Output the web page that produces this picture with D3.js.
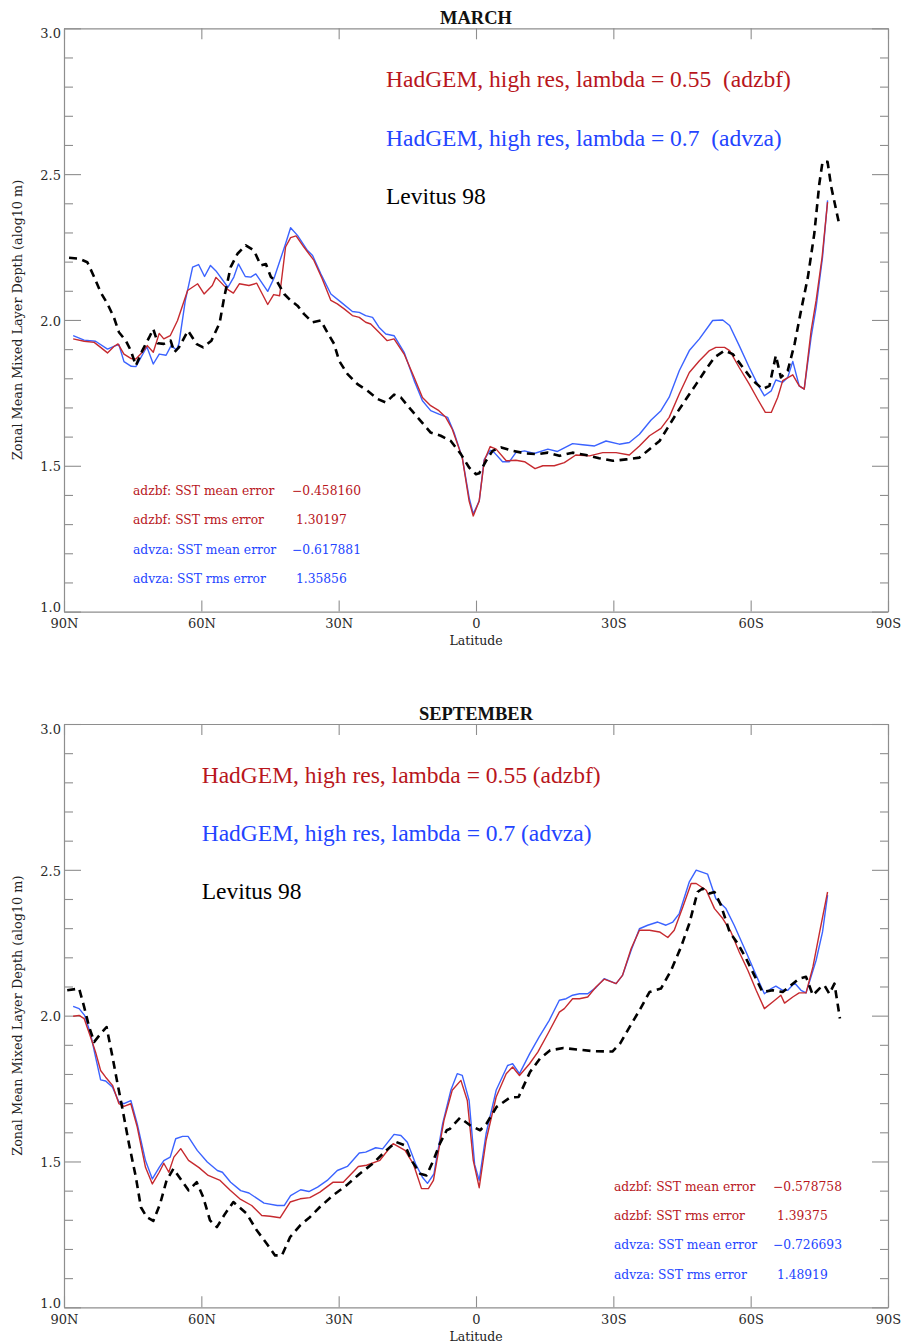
<!DOCTYPE html>
<html>
<head>
<meta charset="utf-8">
<script src="https://cdn.jsdelivr.net/npm/d3@7/dist/d3.min.js"></script>
<style>
  body { margin: 0; background: #fff; }
  svg { display: block; }
</style>
</head>
<body>
<svg id="chart" width="902" height="1344"></svg>
<script>
// ---- Axis ticks and labels ----
const latTicks = [90, 60, 30, 0, -30, -60, -90];
const latTickLabels = ["90N", "60N", "30N", "0", "30S", "60S", "90S"];
const depthMajorTicks = [1.0, 1.5, 2.0, 2.5, 3.0];
const depthMinorTicks = [1.1, 1.2, 1.3, 1.4, 1.6, 1.7, 1.8, 1.9, 2.1, 2.2, 2.3, 2.4, 2.6, 2.7, 2.8, 2.9];

// ---- Legend and statistics text ----
const legendMarch = ["HadGEM, high res, lambda = 0.55  (adzbf)", "HadGEM, high res, lambda = 0.7  (advza)", "Levitus 98"];
const legendSeptember = ["HadGEM, high res, lambda = 0.55 (adzbf)", "HadGEM, high res, lambda = 0.7 (advza)", "Levitus 98"];
const statLabels = ["adzbf: SST mean error", "adzbf: SST rms error", "advza: SST mean error", "advza: SST rms error"];
const statsMarch = ["\u22120.458160", " 1.30197", "\u22120.617881", " 1.35856"];
const statsSeptember = ["\u22120.578758", " 1.39375", "\u22120.726693", " 1.48919"];

// ---- Zonal mean mixed layer depth, [latitude, alog10 m]; south is negative ----
const marchAdzbf = [[88,1.935],[85.6,1.927],[83.4,1.923],[82,1.906],[80.5,1.887],[79.1,1.909],[78.2,1.918],[76.9,1.883],[75.4,1.868],[74.3,1.866],[72.9,1.889],[71.8,1.912],[70.5,1.889],[69.2,1.954],[68.2,1.935],[66.8,1.946],[65.2,1.998],[63,2.101],[60.8,2.124],[59.4,2.089],[57.6,2.118],[56.8,2.146],[54.2,2.104],[53,2.092],[51.7,2.124],[49.6,2.118],[47.9,2.126],[45.5,2.053],[44.2,2.087],[42.9,2.083],[41.6,2.25],[40.5,2.282],[39.3,2.288],[37.6,2.25],[35.4,2.204],[33.6,2.141],[31.7,2.067],[30.3,2.055],[28.8,2.038],[27,2.015],[25.5,2.009],[24.1,1.992],[23,1.986],[21.2,1.958],[19.4,1.929],[17.9,1.935],[15.7,1.883],[13.5,1.803],[11.7,1.734],[9.9,1.706],[8.1,1.689],[6.6,1.666],[5.2,1.626],[3,1.528],[1.5,1.379],[0.6,1.328],[-0.7,1.379],[-1.8,1.517],[-3.1,1.566],[-4.4,1.557],[-6.6,1.517],[-8.7,1.519],[-10.6,1.514],[-12.9,1.49],[-14.6,1.5],[-17.1,1.5],[-19.3,1.511],[-21.8,1.537],[-24.8,1.534],[-27.7,1.545],[-30.6,1.545],[-33.5,1.537],[-35.7,1.568],[-37.9,1.603],[-40.4,1.628],[-42.2,1.666],[-44.4,1.746],[-46.6,1.82],[-48.8,1.86],[-51,1.895],[-52.4,1.906],[-54.3,1.906],[-55.4,1.895],[-57.5,1.837],[-59.7,1.78],[-61.5,1.729],[-63.2,1.683],[-64.5,1.683],[-65.9,1.734],[-67,1.792],[-69.2,1.812],[-70.6,1.774],[-71.7,1.763],[-73.2,1.963],[-74.3,2.067],[-75.6,2.215],[-76.8,2.404]];

const marchAdvza = [[88,1.946],[85.6,1.931],[83.1,1.927],[80.5,1.9],[78.7,1.912],[78,1.915],[76.9,1.857],[75.3,1.841],[74.3,1.84],[71.9,1.908],[70.5,1.849],[69.2,1.883],[67.7,1.879],[66.6,1.912],[65.4,1.897],[64.9,1.918],[63.5,2.066],[61.9,2.181],[60.6,2.19],[59.3,2.149],[58,2.187],[56.8,2.168],[54.2,2.112],[52.9,2.147],[51.9,2.192],[50.4,2.149],[49.2,2.147],[48.1,2.158],[45.5,2.098],[44.1,2.144],[41.6,2.261],[40.5,2.316],[39,2.29],[36.8,2.238],[35.7,2.221],[33.9,2.158],[31.7,2.089],[29.5,2.061],[27,2.029],[25.5,2.026],[24.1,2.015],[22.6,2.009],[21.2,1.975],[19.7,1.952],[17.9,1.946],[15.7,1.889],[13.5,1.792],[11.7,1.723],[9.9,1.689],[8.1,1.677],[6.2,1.666],[4.8,1.614],[3,1.528],[1.5,1.391],[0.6,1.335],[-0.7,1.379],[-1.8,1.522],[-3.1,1.553],[-4,1.545],[-5.8,1.514],[-7.3,1.514],[-8.7,1.545],[-10.6,1.551],[-12.7,1.542],[-15.7,1.557],[-17.8,1.549],[-21.1,1.576],[-23.3,1.572],[-25.9,1.568],[-28.4,1.585],[-31.3,1.574],[-33.5,1.58],[-35.7,1.608],[-38.2,1.656],[-40.4,1.689],[-42.2,1.735],[-44.4,1.826],[-46.6,1.895],[-48.8,1.935],[-51.7,1.998],[-53.9,2.0],[-55.4,1.981],[-57.5,1.912],[-59.7,1.837],[-61.5,1.78],[-63,1.74],[-64.5,1.757],[-65.5,1.794],[-67,1.786],[-68.1,1.803],[-69.2,1.858],[-70.6,1.774],[-71.7,1.763],[-73.2,1.94],[-74.3,2.044],[-75.7,2.215],[-76.8,2.41]];

const marchLevitus = [[88.9,2.213],[86.7,2.21],[84.9,2.198],[83.4,2.147],[82,2.095],[80.5,2.055],[79.1,2.009],[78,1.958],[76.5,1.929],[75.4,1.895],[74.3,1.843],[72.9,1.895],[71.4,1.94],[70.5,1.969],[69.5,1.92],[68.2,1.918],[66.7,1.929],[65.9,1.889],[64.9,1.906],[62.9,1.963],[61,1.917],[59.6,1.906],[57.8,1.929],[56,1.99],[55,2.078],[53.6,2.181],[52.1,2.227],[50.3,2.256],[48.5,2.238],[47,2.187],[45.9,2.192],[44.8,2.147],[43.4,2.13],[41.9,2.089],[40.5,2.067],[39,2.049],[37.6,2.021],[35.7,1.992],[33.9,1.998],[32.5,1.958],[31,1.918],[29.9,1.86],[28.1,1.815],[25.9,1.78],[23.7,1.757],[21.5,1.729],[19.7,1.717],[17.9,1.744],[16.4,1.734],[14.3,1.694],[12.1,1.654],[9.9,1.614],[7.7,1.603],[5.5,1.585],[3.3,1.54],[1.5,1.494],[0,1.471],[-0.7,1.474],[-2.2,1.517],[-3.6,1.551],[-5.5,1.563],[-8,1.551],[-10.9,1.542],[-13.5,1.54],[-15.7,1.545],[-18.2,1.534],[-21.1,1.545],[-24,1.537],[-26.9,1.526],[-29.9,1.517],[-32.8,1.522],[-35.7,1.528],[-37.9,1.557],[-40.1,1.585],[-41.9,1.631],[-43.7,1.677],[-45.9,1.729],[-48.1,1.78],[-50.3,1.832],[-52.1,1.872],[-54.3,1.895],[-56.1,1.883],[-58.3,1.837],[-60.5,1.792],[-62.6,1.763],[-64.1,1.774],[-65.5,1.878],[-66.6,1.803],[-68.1,1.826],[-69.6,1.918],[-71,2.032],[-72.5,2.147],[-73.9,2.296],[-75,2.467],[-75.7,2.542],[-76.8,2.542],[-77.6,2.456],[-79.4,2.324]];

const septAdzbf = [[88,1.998],[86.7,2.001],[85.6,1.99],[84.2,1.927],[83.1,1.875],[82,1.812],[80.9,1.789],[79.4,1.761],[78,1.698],[76.9,1.689],[75.4,1.698],[74,1.618],[72.2,1.48],[70.7,1.423],[69.2,1.463],[68.2,1.494],[67.1,1.463],[66,1.515],[64.5,1.544],[62.8,1.504],[60.5,1.479],[58.5,1.452],[55.9,1.435],[53.7,1.401],[51.6,1.372],[49,1.349],[46.8,1.315],[45,1.312],[42.8,1.307],[40.6,1.361],[38.4,1.372],[36.3,1.376],[34.1,1.395],[31.2,1.429],[29,1.429],[25.7,1.483],[23.9,1.487],[21,1.504],[18.1,1.561],[15.5,1.538],[13.7,1.492],[11.9,1.407],[10.4,1.407],[9.3,1.435],[7,1.641],[5.2,1.744],[3.3,1.778],[1.9,1.709],[0.6,1.504],[-0.7,1.41],[-2.2,1.572],[-4.4,1.721],[-6.6,1.801],[-8,1.824],[-9.5,1.795],[-11.7,1.835],[-13.5,1.875],[-15.7,1.938],[-18.2,2.012],[-19.3,2.024],[-21.1,2.058],[-22.6,2.058],[-24.4,2.064],[-26.2,2.098],[-28,2.125],[-30.6,2.11],[-32,2.138],[-33.9,2.23],[-35.7,2.293],[-37.9,2.293],[-40.1,2.287],[-41.9,2.268],[-43.3,2.293],[-45.2,2.373],[-47,2.453],[-48.1,2.453],[-50.3,2.43],[-52.1,2.367],[-53.9,2.333],[-55.7,2.287],[-57.5,2.218],[-59.4,2.155],[-61.2,2.087],[-63,2.024],[-64.8,2.047],[-66.6,2.07],[-67.4,2.043],[-69.2,2.064],[-70.6,2.078],[-72.1,2.078],[-73.6,2.167],[-75,2.281],[-76.8,2.424]];

const septAdvza = [[88,2.032],[86.7,2.024],[85.5,2.001],[84.2,1.938],[83.1,1.858],[82,1.78],[80.9,1.776],[79.4,1.755],[78,1.704],[76.9,1.698],[75.4,1.709],[74,1.629],[72.2,1.503],[70.7,1.44],[69.2,1.48],[68.2,1.503],[66.8,1.515],[65.6,1.578],[64.1,1.586],[62.9,1.586],[60.9,1.538],[58.7,1.498],[56.5,1.469],[55.4,1.463],[53.6,1.429],[51.4,1.4],[49.6,1.392],[46.3,1.357],[43.4,1.349],[41.9,1.349],[40.5,1.383],[38.3,1.403],[36.5,1.397],[34.6,1.412],[32.5,1.435],[30.3,1.469],[28.1,1.483],[25.5,1.529],[24.1,1.532],[21.9,1.547],[20.4,1.543],[17.9,1.593],[16.4,1.589],[15,1.566],[13.2,1.492],[11.7,1.446],[10.6,1.425],[9.2,1.457],[7.3,1.629],[5.5,1.744],[4.1,1.801],[3,1.795],[1.5,1.709],[0.3,1.49],[-0.7,1.435],[-2.2,1.595],[-4.4,1.744],[-6.9,1.829],[-8,1.835],[-9.5,1.801],[-11.7,1.869],[-13.8,1.927],[-16,1.984],[-18.2,2.053],[-19.7,2.058],[-21.1,2.07],[-22.6,2.075],[-24.4,2.075],[-26.2,2.096],[-28,2.127],[-30.6,2.11],[-32,2.138],[-33.9,2.224],[-35.7,2.298],[-37.5,2.31],[-39.7,2.321],[-41.5,2.31],[-43,2.321],[-44.4,2.35],[-46.6,2.459],[-48.1,2.499],[-50.6,2.485],[-52.4,2.401],[-54.6,2.367],[-56.4,2.31],[-59,2.218],[-61.2,2.138],[-63,2.075],[-64.5,2.093],[-65.5,2.101],[-67,2.087],[-68.1,2.087],[-69.6,2.112],[-71,2.087],[-72.1,2.078],[-74.3,2.19],[-75.7,2.287],[-76.8,2.413]];

const septLevitus = [[89.3,2.087],[86.7,2.093],[85.6,2.03],[84.5,1.961],[83.4,1.91],[82,1.938],[80.7,1.961],[79.4,1.858],[78.3,1.766],[77.3,1.686],[75.8,1.56],[74.3,1.446],[73.2,1.343],[71.9,1.309],[70.5,1.296],[69,1.355],[67.6,1.435],[66.1,1.475],[64.3,1.435],[62.8,1.401],[61,1.429],[59.6,1.378],[58.1,1.298],[56.6,1.275],[54.8,1.321],[53,1.361],[50.1,1.321],[47.9,1.264],[45.7,1.218],[43.9,1.178],[42.4,1.178],[40.6,1.241],[38.4,1.281],[36.3,1.309],[34.1,1.344],[31.2,1.384],[28.3,1.418],[25.4,1.458],[22.6,1.492],[19.6,1.538],[17.5,1.567],[15.5,1.555],[14.1,1.504],[12.2,1.458],[10.8,1.452],[9.3,1.504],[7.9,1.561],[6.4,1.607],[5.7,1.612],[3.5,1.65],[1.3,1.624],[-0.9,1.607],[-2.3,1.63],[-4.5,1.687],[-7.4,1.719],[-9.3,1.721],[-11.8,1.807],[-14,1.853],[-16.2,1.881],[-19.1,1.889],[-22,1.884],[-25.7,1.878],[-29.8,1.877],[-31.5,1.905],[-33.1,1.949],[-35.7,2.018],[-37.9,2.081],[-40.4,2.093],[-42.6,2.155],[-44.8,2.236],[-46.6,2.316],[-48.4,2.424],[-49.5,2.436],[-51,2.419],[-52.1,2.424],[-53.5,2.379],[-55.4,2.287],[-57.2,2.247],[-59,2.196],[-60.8,2.138],[-62.6,2.081],[-64.8,2.087],[-67,2.081],[-68.8,2.104],[-70.6,2.127],[-72.1,2.133],[-73.6,2.07],[-75,2.093],[-76.1,2.104],[-77.2,2.075],[-78.3,2.11],[-79.5,1.99]];

// ---- Styling ----
const RED_LINE = "#c62a2f", BLUE_LINE = "#3b63ff";
const RED_TEXT = "#b8161c", BLUE_TEXT = "#2344ff";
const AXIS_GRAY = "#8e8e8e";
const LABEL_FONT = "'DejaVu Serif', serif";
const TEXT_FONT = "'Liberation Serif', 'Times New Roman', serif";

const svg = d3.select("#chart");
svg.append("rect").attr("width", 902).attr("height", 1344).attr("fill", "#fff");

const left = 64, right = 888;

function drawPanel(cfg) {
  const x = d3.scaleLinear().domain([90, -90]).range([left, right]);
  const y = d3.scaleLinear().domain([1, 3]).range([cfg.bottom, cfg.top]);
  const g = svg.append("g");

  // title
  g.append("text")
    .attr("x", (left + right) / 2).attr("y", cfg.top - 4.5)
    .attr("text-anchor", "middle")
    .attr("font-family", TEXT_FONT).attr("font-weight", "bold")
    .attr("font-size", 18.5).attr("fill", "#111")
    .text(cfg.title);

  // left axis: major ticks with labels, then minor ticks
  const leftMajor = g.append("g").attr("transform", `translate(${left},0)`)
    .call(d3.axisLeft(y).tickValues(depthMajorTicks).tickSizeInner(-17).tickSizeOuter(0)
      .tickPadding(3).tickFormat(d3.format(".1f")));
  g.append("g").attr("transform", `translate(${left},0)`)
    .call(d3.axisLeft(y).tickValues(depthMinorTicks).tickSizeInner(-9).tickSizeOuter(0).tickFormat(""))
    .select(".domain").remove();
  leftMajor.selectAll("text")
    .attr("font-family", LABEL_FONT).attr("font-size", 13).attr("fill", "#2a2a2a")
    .attr("dy", d => d === 3 ? "0.72em" : d === 1 ? "0.02em" : "0.4em");

  // right axis
  g.append("g").attr("transform", `translate(${right},0)`)
    .call(d3.axisRight(y).tickValues(depthMajorTicks).tickSizeInner(-16).tickSizeOuter(0).tickFormat(""));
  g.append("g").attr("transform", `translate(${right},0)`)
    .call(d3.axisRight(y).tickValues(depthMinorTicks).tickSizeInner(-8).tickSizeOuter(0).tickFormat(""))
    .select(".domain").remove();

  // top and bottom latitude axes
  g.append("g").attr("transform", `translate(0,${cfg.top})`)
    .call(d3.axisTop(x).tickValues(latTicks).tickSizeInner(-11).tickSizeOuter(0).tickFormat(""));
  const bottomAxis = g.append("g").attr("transform", `translate(0,${cfg.bottom})`)
    .call(d3.axisBottom(x).tickValues(latTicks).tickSizeInner(-11).tickSizeOuter(0)
      .tickPadding(7.5).tickFormat((d, i) => latTickLabels[i]));
  bottomAxis.selectAll("text")
    .attr("font-family", LABEL_FONT).attr("font-size", 13).attr("fill", "#2a2a2a");

  g.selectAll(".domain").attr("stroke", AXIS_GRAY).attr("stroke-width", 1.2);
  g.selectAll(".tick line").attr("stroke", AXIS_GRAY).attr("stroke-width", 1.1);

  // axis titles
  g.append("text")
    .attr("x", (left + right) / 2).attr("y", cfg.bottom + 33.5)
    .attr("text-anchor", "middle")
    .attr("font-family", LABEL_FONT).attr("font-size", 12.5).attr("fill", "#222")
    .text("Latitude");
  g.append("text")
    .attr("transform", `translate(22,${(cfg.top + cfg.bottom) / 2}) rotate(-90)`)
    .attr("text-anchor", "middle")
    .attr("font-family", LABEL_FONT).attr("font-size", 12.8).attr("fill", "#222")
    .text("Zonal Mean Mixed Layer Depth (alog10 m)");

  // data lines
  const line = d3.line().x(d => x(d[0])).y(d => y(d[1]));
  const plot = g.append("g").attr("fill", "none").attr("stroke-linejoin", "round");
  plot.append("path").datum(cfg.advza).attr("d", line)
    .attr("stroke", BLUE_LINE).attr("stroke-width", 1.4);
  plot.append("path").datum(cfg.adzbf).attr("d", line)
    .attr("stroke", RED_LINE).attr("stroke-width", 1.4);
  plot.append("path").datum(cfg.levitus).attr("d", line)
    .attr("stroke", "#000").attr("stroke-width", 2.6).attr("stroke-dasharray", "8,5.5");

  // legend
  const legendColors = [RED_TEXT, BLUE_TEXT, "#000"];
  cfg.legend.forEach((t, i) => {
    g.append("text")
      .attr("x", cfg.legendX).attr("y", cfg.top + 59 + i * 58.2)
      .attr("font-family", TEXT_FONT).attr("font-size", 23.5)
      .attr("fill", legendColors[i]).style("white-space", "pre")
      .text(t);
  });

  // error statistics
  const statColors = [RED_TEXT, RED_TEXT, BLUE_TEXT, BLUE_TEXT];
  statLabels.forEach((t, i) => {
    const yy = cfg.top + 466.7 + i * 29.3;
    g.append("text")
      .attr("x", cfg.statX).attr("y", yy)
      .attr("font-family", LABEL_FONT).attr("font-size", 12.3)
      .attr("fill", statColors[i]).text(t);
    g.append("text")
      .attr("x", cfg.statX + 159).attr("y", yy)
      .attr("font-family", LABEL_FONT).attr("font-size", 12.3)
      .attr("fill", statColors[i]).style("white-space", "pre").text(cfg.stats[i]);
  });
}

drawPanel({
  title: "MARCH", top: 28.3, bottom: 611.6,
  adzbf: marchAdzbf, advza: marchAdvza, levitus: marchLevitus,
  legend: legendMarch, legendX: 386, stats: statsMarch, statX: 133
});
drawPanel({
  title: "SEPTEMBER", top: 724, bottom: 1307.3,
  adzbf: septAdzbf, advza: septAdvza, levitus: septLevitus,
  legend: legendSeptember, legendX: 201.7, stats: statsSeptember, statX: 614
});
</script>
</body>
</html>
